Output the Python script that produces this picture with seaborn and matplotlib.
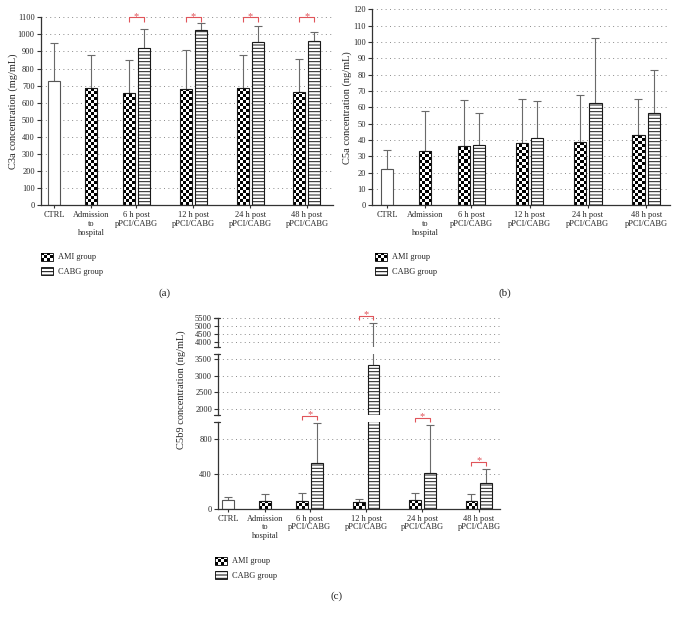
import numpy as np
import pandas as pd
import matplotlib
matplotlib.use("Agg")
import matplotlib.pyplot as plt
from matplotlib.patches import Patch, Rectangle
from matplotlib.container import BarContainer
from matplotlib.legend_handler import HandlerBase
import seaborn as sns

categories = ["CTRL", "Admission\nto\nhospital", "6 h post\npPCI/CABG",
              "12 h post\npPCI/CABG", "24 h post\npPCI/CABG", "48 h post\npPCI/CABG"]
groups = ["CTRL", "AMI group", "CABG group"]

# C3a (mg/mL): mean and upper SD; AMI from admission on, CABG from 6 h on
c3a_ctrl = 727
c3a_ctrl_sd = 224
c3a_ami = [684, 655, 682, 688, 661]
c3a_ami_sd = [193, 195, 228, 189, 197]
c3a_cabg = [918, 1024, 955, 963]
c3a_cabg_sd = [112, 41, 96, 51]

# C5a (ng/mL)
c5a_ctrl = 22
c5a_ctrl_sd = 12
c5a_ami = [33.5, 36.3, 38.0, 39.0, 42.9]
c5a_ami_sd = [24.5, 28.2, 27.1, 28.8, 22.0]
c5a_cabg = [37.1, 41.4, 62.9, 56.7]
c5a_cabg_sd = [19.6, 22.3, 39.8, 26.0]

# C5b9 (ng/mL)
c5b9_ctrl = 100
c5b9_ctrl_sd = 40
c5b9_ami = [90, 90, 85, 103, 88]
c5b9_ami_sd = [80, 95, 35, 84, 82]
c5b9_cabg = [534, 3340, 415, 300]
c5b9_cabg_sd = [456, 1890, 555, 165]

# time points (index into categories) with AMI vs CABG significance
c3a_sig = [2, 3, 4, 5]
c5b9_sig = [2, 3, 4, 5]

# layout
centers = [0, 2.5, 5.5, 9.3, 13.1, 16.9]
RED = "#e0545a"
INK = "#333333"

sns.set_style("white")
plt.rcParams["font.family"] = ["Liberation Serif", "DejaVu Serif"]
plt.rcParams["hatch.linewidth"] = 0.7


def build_frame(ctrl, ctrl_sd, ami, ami_sd, cabg, cabg_sd):
    rows = [(centers[0], "CTRL", ctrl, ctrl_sd)]
    for k, (m, s) in enumerate(zip(ami, ami_sd), start=1):
        pos = centers[k] if k == 1 else centers[k] - 0.5
        rows.append((pos, "AMI group", m, s))
    for k, (m, s) in enumerate(zip(cabg, cabg_sd), start=2):
        rows.append((centers[k] + 0.5, "CABG group", m, s))
    return pd.DataFrame(rows, columns=["pos", "group", "value", "sd"])


def add_checker(ax, patch, cell=3.0):
    x0, y0 = patch.get_x(), patch.get_y()
    w, h = patch.get_width(), patch.get_height()
    ylo, yhi = ax.get_ylim()
    if h <= 0 or y0 + h <= ylo:
        return
    dy = (yhi - ylo) / ax.bbox.height
    px = ax.transData.transform([(x0, 0), (x0 + w, 0)])
    bottom = max(y0, ylo)
    top = min(y0 + h, yhi)
    ncol = max(1, int(round((px[1, 0] - px[0, 0]) / cell)))
    nrow = max(1, int(np.ceil((top - bottom) / dy / cell)))
    grid = np.add.outer(np.arange(nrow), np.arange(ncol)) % 2
    im = ax.imshow(grid, cmap="gray", vmin=0, vmax=1, origin="lower",
                   extent=(x0, x0 + w, bottom, bottom + nrow * cell * dy),
                   aspect="auto", interpolation="nearest", zorder=1.5)
    im.set_clip_path(patch)
    patch.set_facecolor("none")
    patch.set_zorder(2)


def draw_panel(ax, df, ylim, yticks, xlim):
    sns.barplot(data=df, x="pos", y="value", hue="group", hue_order=groups,
                palette={g: "white" for g in groups}, native_scale=True,
                dodge=False, width=0.8, errorbar=None, saturation=1,
                edgecolor="#1a1a1a", linewidth=0.8, legend=False, ax=ax)
    bars = [p for c in ax.containers if isinstance(c, BarContainer) for p in c]
    err = ax.errorbar(df["pos"], df["value"], yerr=[np.zeros(len(df)), df["sd"]],
                      fmt="none", ecolor="#6a6a6a", elinewidth=0.8,
                      capsize=2.6, capthick=0.8, zorder=0.9)
    for cap in err[1]:
        cap.set_color("#2a2a2a")
    ax.set_xlim(*xlim)
    ax.set_ylim(*ylim)
    ax.set_yticks(yticks)
    for p in bars:
        cx = p.get_x() + p.get_width() / 2
        grp = df.loc[(df["pos"] - cx).abs().idxmin(), "group"]
        if grp == "AMI group":
            add_checker(ax, p)
        elif grp == "CABG group":
            p.set_hatch("-----")
        else:
            p.set_edgecolor("#555555")
    ax.set_xlim(*xlim)
    ax.set_ylim(*ylim)
    ax.set_xlabel("")
    ax.set_ylabel("")
    ax.yaxis.grid(True, linestyle=(0, (1, 3.5)), color="#8a8a8a", linewidth=0.7)
    ax.xaxis.grid(False)
    ax.set_axisbelow(True)
    for s in ["top", "right"]:
        ax.spines[s].set_visible(False)
    for s in ["left", "bottom"]:
        ax.spines[s].set_color(INK)
        ax.spines[s].set_linewidth(0.9)
    ax.tick_params(axis="y", direction="out", length=3, width=0.8, color=INK,
                   labelsize=6, pad=1.5, left=True)
    ax.tick_params(axis="x", direction="out", length=2, width=0.8, color=INK,
                   labelsize=6, pad=2, bottom=True)
    ax.set_xticks(centers)
    ax.set_xticklabels(categories, linespacing=1.15)


def bracket(ax, k, y, lift_px=0.0):
    ylo, yhi = ax.get_ylim()
    dy = (yhi - ylo) / ax.bbox.height
    x1, x2 = centers[k] - 0.5, centers[k] + 0.5
    yb = y + lift_px * dy
    yl = yb - 4.5 * dy
    ax.plot([x1, x1, x2, x2], [yl, yb, yb, yl], color=RED, lw=0.8,
            clip_on=False, zorder=5, solid_capstyle="butt")
    ax.text(centers[k], yb - 1.5 * dy, "*", color=RED, fontsize=7.5,
            ha="center", va="baseline", clip_on=False)


class CheckerHandler(HandlerBase):
    def create_artists(self, legend, orig_handle, xdescent, ydescent,
                       width, height, fontsize, trans):
        arts = []
        nc, nr = 4, 3
        cw, ch = width / nc, height / nr
        for i in range(nr):
            for j in range(nc):
                if (i + j) % 2 == 0:
                    arts.append(Rectangle((-xdescent + j * cw, -ydescent + i * ch), cw, ch,
                                          facecolor="black", edgecolor="none",
                                          transform=trans))
        arts.append(Rectangle((-xdescent, -ydescent), width, height,
                              facecolor="none", edgecolor="black", lw=0.6,
                              transform=trans))
        return arts


def add_legend(fig, x, y):
    ami_h = Patch(facecolor="white", edgecolor="black")
    cabg_h = Patch(facecolor="white", edgecolor="black", hatch="-----", lw=0.6)
    fig.legend([ami_h, cabg_h], ["AMI group", "CABG group"],
               handler_map={ami_h: CheckerHandler()},
               loc="upper left", bbox_to_anchor=(x, y), bbox_transform=fig.transFigure,
               frameon=False, fontsize=6, handlelength=1.45, handleheight=1.1,
               handletextpad=0.6, labelspacing=0.7, borderpad=0, borderaxespad=0)


W, H = 677, 617
fig = plt.figure(figsize=(W / 100, H / 100), dpi=100)


def rect(left, top, right, bottom):
    return [left / W, 1 - bottom / H, (right - left) / W, (bottom - top) / H]


# (a) C3a
ax_a = fig.add_axes(rect(41, 17.3, 333, 205.3))
df_a = build_frame(c3a_ctrl, c3a_ctrl_sd, c3a_ami, c3a_ami_sd, c3a_cabg, c3a_cabg_sd)
draw_panel(ax_a, df_a, (0, 1100), np.arange(0, 1101, 100), (-0.87, 18.64))
ax_a.set_ylabel("C3a concentration (mg/mL)", fontsize=7.5, labelpad=0)
for k in c3a_sig:
    bracket(ax_a, k, 1100)

# (b) C5a
ax_b = fig.add_axes(rect(372.3, 9.3, 670, 205.3))
df_b = build_frame(c5a_ctrl, c5a_ctrl_sd, c5a_ami, c5a_ami_sd, c5a_cabg, c5a_cabg_sd)
draw_panel(ax_b, df_b, (0, 120), np.arange(0, 121, 10), (-0.96, 18.46))
ax_b.set_ylabel("C5a concentration (ng/mL)", fontsize=7.5, labelpad=1)

# (c) C5b9, broken y axis in three segments
df_c = build_frame(c5b9_ctrl, c5b9_ctrl_sd, c5b9_ami, c5b9_ami_sd, c5b9_cabg, c5b9_cabg_sd)
ax_c3 = fig.add_axes(rect(218.3, 318.3, 500, 346.7))
ax_c2 = fig.add_axes(rect(218.3, 354.3, 500, 415))
ax_c1 = fig.add_axes(rect(218.3, 422, 500, 509))
draw_panel(ax_c3, df_c, (3725, 5500), [4000, 4500, 5000, 5500], (-0.65, 18.32))
draw_panel(ax_c2, df_c, (1820, 3650), [2000, 2500, 3000, 3500], (-0.65, 18.32))
draw_panel(ax_c1, df_c, (0, 1000), [0, 400, 800], (-0.65, 18.32))
for ax in (ax_c3, ax_c2):
    ax.spines["bottom"].set_visible(False)
    ax.tick_params(axis="x", bottom=False, labelbottom=False)
for ax, ends in ((ax_c3, [0, 1]), (ax_c2, [0, 1]), (ax_c1, [1])):
    for e in ends:
        ax.plot([-0.014, 0.006], [e, e], transform=ax.transAxes, color=INK,
                lw=0.9, clip_on=False)
c_tops = {k: m + s for k, m, s in zip(range(2, 6), c5b9_cabg, c5b9_cabg_sd)}
for k in c5b9_sig:
    target = ax_c3 if c_tops[k] > 3725 else ax_c1
    bracket(target, k, c_tops[k], lift_px=7)
fig.text(181 / W, 1 - 390 / H, "C5b9 concentration (ng/mL)", rotation=90,
         fontsize=7.5, ha="center", va="center")

add_legend(fig, 41 / W, 1 - 252.5 / H)
add_legend(fig, 375 / W, 1 - 252.5 / H)
add_legend(fig, 215 / W, 1 - 556.5 / H)

fig.text(165 / W, 1 - 293 / H, "(a)", fontsize=8, ha="center", va="center")
fig.text(505 / W, 1 - 293 / H, "(b)", fontsize=8, ha="center", va="center")
fig.text(337 / W, 1 - 596 / H, "(c)", fontsize=8, ha="center", va="center")

fig.savefig("out.png", dpi=100)
plt.close(fig)
